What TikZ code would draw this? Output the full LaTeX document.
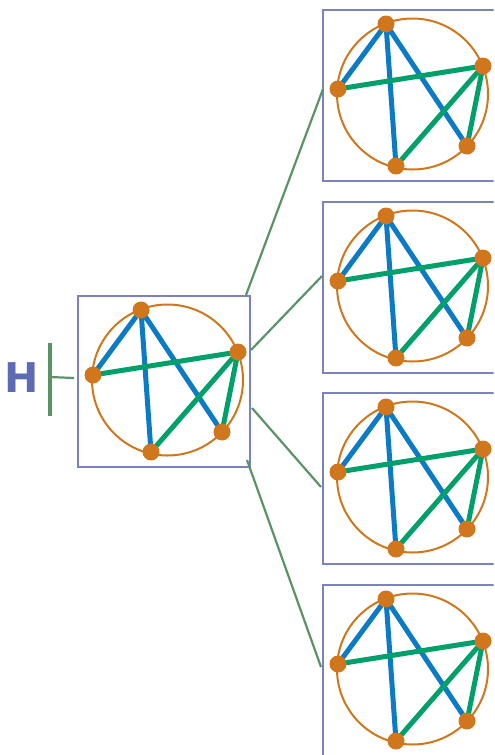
\documentclass[tikz,border=0pt]{standalone}
\usepackage{fontspec}
\setsansfont{DejaVu Sans}
\usetikzlibrary{positioning}
\definecolor{cFrame}{HTML}{7A82C2}
\definecolor{cLink} {HTML}{5A9466}
\definecolor{cRing} {HTML}{D0761C}
\definecolor{cBlue} {HTML}{0A7BC4}
\definecolor{cGreen}{HTML}{00A06A}
\definecolor{cHead} {HTML}{5E6AB4}

\tikzset{
  frame/.style = {draw=cFrame, line width=1.2pt},
  ring/.style  = {draw=cRing, line width=2pt},
  vtx/.style   = {circle, fill=cRing, inner sep=0pt, minimum size=17pt},
  eblue/.style = {draw=cBlue, line width=5pt},
  egreen/.style= {draw=cGreen, line width=5pt},
  link/.style  = {draw=cLink, line width=2.2pt},
  gbox/.pic = {
    \draw[frame] (0,0) rectangle (172,171);
    \draw[ring] (89.5,84) circle[radius=75.5pt];
    \coordinate (-t) at (63,14);
    \coordinate (-r) at (160,56);
    \coordinate (-q) at (144,136);
    \coordinate (-b) at (73,156);
    \coordinate (-l) at (15,79);
    \draw[eblue] (-t) -- (-l) (-t) -- (-b) (-t) -- (-q);
    \draw[egreen] (-l) -- (-r) (-r) -- (-b) (-r) -- (-q);
    \foreach \v in {t,r,q,b,l} \node[vtx] at (-\v) {};
  }
}

\begin{document}
\begin{tikzpicture}[x=1pt, y=-1pt]
  \useasboundingbox (0,0) rectangle (495,755);
  \begin{scope}
    \clip (0,0) rectangle (493.6,755);
    \pic (root) at (78,296) {gbox};
    \pic (g1) at (323,10) {gbox};
    \pic (g2) at (323,202) {gbox};
    \pic (g3) at (323,393) {gbox};
    \pic (g4) at (323,585) {gbox};
  \end{scope}

  \node[font=\sffamily\bfseries\fontsize{41}{41}\selectfont, text=cHead, inner sep=0pt] (h) at (22,378) {H};
  \coordinate (tickT) at (50,343);
  \coordinate (tickB) at (50,416);
  \coordinate (tickM) at (50,377);
  \coordinate (rootIn) at (74,378);
  \draw[link, line width=3.5pt] (tickT) -- (tickB);
  \draw[link] (tickM) -- (rootIn);

  % branches
  \coordinate (o1) at (246,295);
  \coordinate (o2) at (251,350);
  \coordinate (o3) at (252,408);
  \coordinate (o4) at (247,460);
  \coordinate (i1) at (323,89);
  \coordinate (i2) at (322,276);
  \coordinate (i3) at (321,487);
  \coordinate (i4) at (321,667);
  \foreach \k in {1,...,4} \draw[link] (o\k) -- (i\k);
\end{tikzpicture}
\end{document}
